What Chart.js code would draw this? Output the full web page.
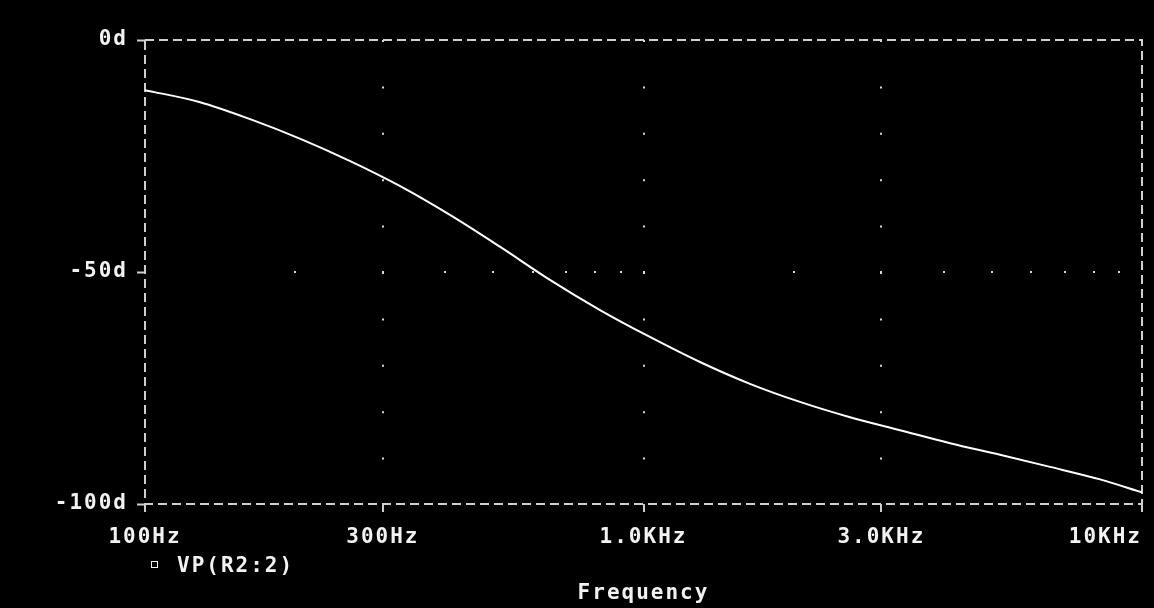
<!DOCTYPE html>
<html>
<head>
<meta charset="utf-8">
<script src="https://cdn.jsdelivr.net/npm/chart.js@4/dist/chart.umd.min.js"></script>
<style>
  html, body { margin: 0; padding: 0; background: #000; }
  #wrap { width: 1154px; height: 608px; }
</style>
</head>
<body>
<div id="wrap"><canvas id="phasePlot" width="1154" height="608"></canvas></div>
<script>
// values
const freqs = [100, 129, 162, 205, 258, 325, 409, 516, 649, 818, 1030, 1298, 1635, 2060, 2596, 3270, 4120, 5190, 6540, 8240, 10000];
const phases = [-10.8, -13.4, -17.0, -21.3, -26.1, -31.5, -37.7, -44.6, -51.7, -58.2, -64.0, -69.4, -74.1, -78.0, -81.3, -84.1, -86.9, -89.4, -92.0, -94.7, -97.5];

const xTickValues = [100, 300, 1000, 3000, 10000];
const xTickLabels = ['100Hz', '300Hz', '1.0KHz', '3.0KHz', '10KHz     '];
const yTickLabels = { 0: '0d', '-50': '-50d', '-100': '-100d' };
const minorFreqs = [200, 300, 400, 500, 600, 700, 800, 900, 1000, 2000, 3000, 4000, 5000, 6000, 7000, 8000, 9000];
const midLine = -50;
const traceName = 'VP(R2:2)';
const axisTitle = 'Frequency';

const textColor = '#f2f2f2';
const frameColor = '#cfcfcf';
const dotColor = '#d8d8d8';
const monoFont = '"DejaVu Sans Mono", "Liberation Mono", monospace';
const spacing = '2px';

const pspiceFrame = {
  id: 'pspiceFrame',
  beforeLayout(chart) {
    chart.ctx.letterSpacing = spacing;
  },
  beforeDraw(chart) {
    const { ctx } = chart;
    ctx.save();
    ctx.fillStyle = '#000';
    ctx.fillRect(0, 0, chart.width, chart.height);
    ctx.restore();
    ctx.letterSpacing = spacing;
  },
  beforeDatasetsDraw(chart) {
    const { ctx, chartArea: a, scales: { x, y } } = chart;
    ctx.save();
    // dotted row at -50d, one dot per minor decade tick
    ctx.fillStyle = dotColor;
    const yMid = Math.round(y.getPixelForValue(midLine));
    minorFreqs.forEach((f) => {
      ctx.fillRect(Math.round(x.getPixelForValue(f)) - 1, yMid - 1, 2, 2);
    });
    // dashed frame
    ctx.strokeStyle = frameColor;
    ctx.lineWidth = 2;
    ctx.setLineDash([9, 5]);
    ctx.strokeRect(a.left, a.top, a.right - a.left, a.bottom - a.top);
    ctx.restore();
  },
  afterDraw(chart) {
    const { ctx, chartArea: a } = chart;
    ctx.save();
    ctx.letterSpacing = spacing;
    ctx.font = `bold 21px ${monoFont}`;
    ctx.fillStyle = textColor;
    ctx.textBaseline = 'alphabetic';
    // trace legend
    ctx.strokeStyle = textColor;
    ctx.lineWidth = 1;
    ctx.strokeRect(151.5, 561.5, 6, 6);
    ctx.textAlign = 'left';
    ctx.fillText(traceName, 177, 572);
    // x axis title
    ctx.textAlign = 'center';
    ctx.fillText(axisTitle, (a.left + a.right) / 2, 599);
    ctx.restore();
  }
};

// eslint-disable-next-line no-new
new Chart(document.getElementById('phasePlot'), {
  type: 'line',
  data: {
    datasets: [{
      label: traceName,
      data: freqs.map((f, i) => ({ x: f, y: phases[i] })),
      borderColor: '#ffffff',
      borderWidth: 2,
      pointRadius: 0,
      cubicInterpolationMode: 'monotone',
      fill: false
    }]
  },
  options: {
    responsive: false,
    animation: false,
    events: [],
    layout: { padding: { top: 40, right: 12, left: 0, bottom: 0 } },
    plugins: {
      legend: { display: false },
      tooltip: { enabled: false }
    },
    scales: {
      x: {
        type: 'logarithmic',
        min: 100,
        max: 10000,
        afterBuildTicks: (scale) => {
          scale.ticks = xTickValues.map((v) => ({ value: v }));
        },
        afterFit: (scale) => {
          scale.height = 104;
          scale.paddingLeft = 0;
          scale.paddingRight = 0;
        },
        border: { display: false, dash: [2, 44.4] },
        grid: {
          color: (c) => (c.tick && (c.tick.value === 100 || c.tick.value === 10000) ? 'rgba(0,0,0,0)' : dotColor),
          lineWidth: 2,
          tickLength: 8,
          tickColor: frameColor,
          tickWidth: 2,
          tickBorderDash: []
        },
        ticks: {
          autoSkip: false,
          maxRotation: 0,
          padding: 13,
          color: textColor,
          font: { family: monoFont, size: 21, weight: 'bold' },
          callback: (value, index) => xTickLabels[index]
        }
      },
      y: {
        min: -100,
        max: 0,
        afterFit: (scale) => {
          scale.width = 145;
          scale.paddingTop = 0;
          scale.paddingBottom = 0;
        },
        border: { display: false },
        grid: {
          drawOnChartArea: false,
          tickLength: 8,
          tickColor: frameColor,
          tickWidth: 2
        },
        ticks: {
          stepSize: 50,
          padding: 9,
          color: textColor,
          font: { family: monoFont, size: 21, weight: 'bold' },
          callback: (value) => yTickLabels[value]
        }
      }
    }
  },
  plugins: [pspiceFrame]
});
</script>
</body>
</html>
